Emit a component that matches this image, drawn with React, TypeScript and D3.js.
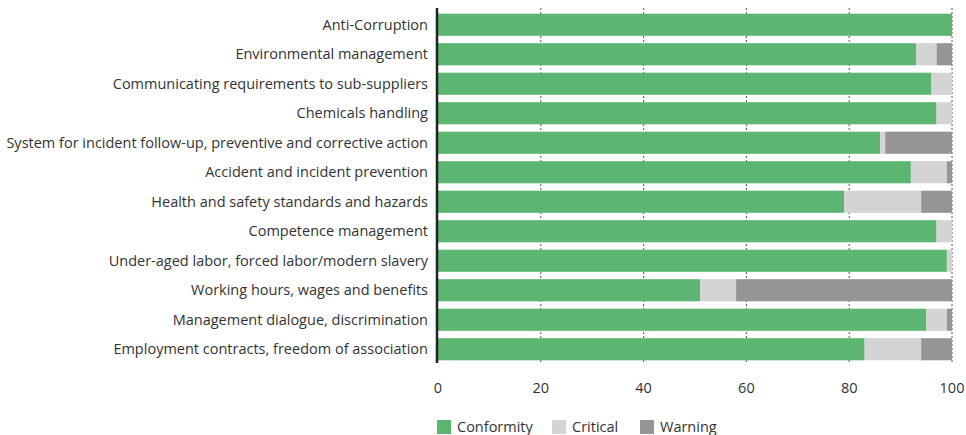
import React from "react";
import * as d3 from "d3";

const categories = [
  "Anti-Corruption",
  "Environmental management",
  "Communicating requirements to sub-suppliers",
  "Chemicals handling",
  "System for incident follow-up, preventive and corrective action",
  "Accident and incident prevention",
  "Health and safety standards and hazards",
  "Competence management",
  "Under-aged labor, forced labor/modern slavery",
  "Working hours, wages and benefits",
  "Management dialogue, discrimination",
  "Employment contracts, freedom of association",
];
const conformity = [100, 93, 96, 97, 86, 92, 79, 97, 99, 51, 95, 83];
const critical = [0, 4, 4, 3, 1, 7, 15, 3, 1, 7, 4, 11];
const warning = [0, 3, 0, 0, 13, 1, 6, 0, 0, 42, 1, 6];
const seriesNames = ["Conformity", "Critical", "Warning"];
const xTicks = [0, 20, 40, 60, 80, 100];

const colors = ["#5cb671", "#d3d4d3", "#949594"];
const FONT = "'Open Sans', 'Noto Sans', sans-serif";

export default function App() {
  const W = 966;
  const H = 435;
  const x = d3.scaleLinear().domain([0, 100]).range([438, 952]);
  const y = d3
    .scaleBand<string>()
    .domain(categories)
    .range([10, 364])
    .paddingInner(0.25)
    .paddingOuter(0.125);

  const rows = categories.map((c, i) => ({
    cat: c,
    vals: [conformity[i], critical[i], warning[i]],
  }));

  return (
    <svg
      width={W}
      height={H}
      style={{ position: "absolute", left: 0, top: 0, background: "#fff" }}
      fontFamily={FONT}
    >
      {/* gridlines */}
      {xTicks
        .filter((t) => t > 0)
        .map((t) => (
          <line
            key={"g" + t}
            x1={x(t)}
            x2={x(t)}
            y1={8}
            y2={362}
            stroke="#555"
            strokeWidth={1}
            strokeDasharray="2,2"
          />
        ))}
      {/* bars */}
      {rows.map((r) => {
        let acc = 0;
        return (
          <g key={r.cat}>
            {r.vals.map((v, k) => {
              const x0 = acc;
              acc += v;
              if (v <= 0) return null;
              return (
                <rect
                  key={k}
                  x={x(x0)}
                  y={y(r.cat)!}
                  width={x(x0 + v) - x(x0)}
                  height={y.bandwidth()}
                  fill={colors[k]}
                />
              );
            })}
          </g>
        );
      })}
      {/* axis line */}
      <line x1={437} x2={437} y1={8} y2={363} stroke="#222" strokeWidth={2.5} />
      {/* category labels */}
      {categories.map((c) => (
        <text
          key={"l" + c}
          x={428}
          y={y(c)! + y.bandwidth() / 2}
          dy="0.35em"
          textAnchor="end"
          fontSize={14.5}
          fill="#333"
        >
          {c}
        </text>
      ))}
      {/* x tick labels */}
      {xTicks.map((t) => (
        <text
          key={"t" + t}
          x={x(t)}
          y={388}
          dy="0.35em"
          textAnchor="middle"
          fontSize={14.5}
          fill="#333"
        >
          {t}
        </text>
      ))}
      {/* legend */}
      {seriesNames.map((s, i) => {
        const lx = [437, 552, 640][i];
        return (
          <g key={s}>
            <rect x={lx} y={420} width={14} height={14} fill={colors[i]} />
            <text x={lx + 20} y={427} dy="0.35em" fontSize={14.5} fill="#333">
              {s}
            </text>
          </g>
        );
      })}
    </svg>
  );
}
